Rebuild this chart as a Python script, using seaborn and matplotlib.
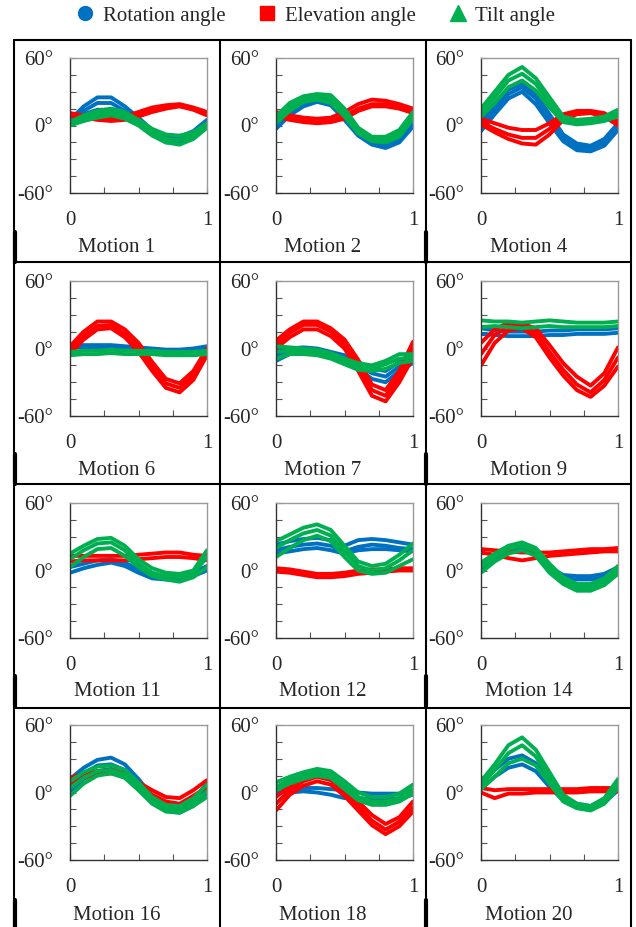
"""
Joint angle traces for 12 motions (rotation / elevation / tilt)
"""

import matplotlib
matplotlib.use('Agg')
import matplotlib.pyplot as plt
from matplotlib.lines import Line2D
import seaborn as sns
import pandas as pd

# normalised motion phase where the angles were read
PHASE = [0.0, 0.1, 0.2, 0.3, 0.4, 0.5, 0.6, 0.7, 0.8, 0.9, 1.0]

MOTIONS = [1, 2, 4, 6, 7, 9, 11, 12, 14, 16, 18, 20]

# each list holds a few repetitions of the same motion (degrees)
m1_rot = [[5, 17, 25, 25, 17, 7, -4, -10, -10, -5, 5],
          [3, 13, 20, 20, 13, 4, -6, -12, -12, -7, 3],
          [1, 10, 14, 14, 8, 1, -8, -15, -15, -10, 1]]
m1_elv = [[11, 9, 8, 7, 8, 12, 16, 18, 19, 16, 12],
          [9, 7, 5, 4, 5, 8, 12, 15, 17, 14, 9],
          [10, 8, 6, 5, 6, 10, 14, 17, 18, 15, 10]]
m1_tilt = [[3, 9, 13, 15, 12, 5, -3, -8, -9, -6, 2],
           [1, 6, 10, 12, 9, 2, -6, -12, -13, -9, 0],
           [0, 4, 7, 9, 6, 0, -9, -15, -17, -12, -2]]

m2_rot = [[2, 15, 22, 25, 24, 12, -4, -13, -15, -10, 5],
          [0, 12, 20, 23, 21, 8, -7, -15, -17, -12, 2],
          [-3, 9, 17, 21, 18, 5, -9, -17, -20, -15, -1]]
m2_elv = [[12, 9, 7, 6, 7, 12, 19, 23, 22, 19, 15],
          [10, 6, 4, 3, 4, 8, 15, 19, 19, 16, 13],
          [8, 5, 3, 2, 3, 6, 13, 17, 17, 15, 11]]
m2_tilt = [[8, 20, 26, 28, 27, 15, -2, -10, -10, -4, 12],
           [5, 17, 24, 26, 24, 11, -5, -12, -13, -7, 9],
           [2, 13, 21, 23, 20, 8, -7, -14, -15, -10, 6]]

m4_rot = [[4, 18, 32, 37, 28, 10, -8, -16, -18, -12, 2],
          [0, 14, 28, 34, 24, 6, -11, -19, -21, -15, -1],
          [-5, 10, 24, 30, 19, 2, -14, -22, -23, -18, -4]]
m4_elv = [[6, 2, -2, -4, -4, 2, 10, 13, 13, 11, 4],
          [3, -3, -8, -11, -11, -3, 8, 12, 12, 9, 2],
          [1, -6, -12, -16, -17, -8, 5, 10, 11, 8, 0]]
m4_tilt = [[15, 30, 45, 52, 42, 25, 8, 5, 6, 8, 14],
           [11, 25, 40, 46, 37, 20, 5, 3, 4, 6, 11],
           [8, 20, 34, 40, 31, 16, 3, 1, 2, 4, 8]]

m6_rot = [[3, 3, 3, 3, 2, 1, 0, -1, -1, 0, 2],
          [1, 1, 1, 1, 0, -1, -2, -3, -3, -2, 0]]
m6_elv = [[2, 15, 24, 24, 17, 5, -12, -27, -31, -20, 0],
          [-2, 11, 20, 21, 13, 1, -16, -31, -35, -24, -3],
          [-5, 8, 17, 18, 10, -3, -20, -35, -39, -28, -6]]
m6_tilt = [[-3, -2, -2, -1, -2, -2, -2, -3, -3, -3, -2],
           [-6, -5, -5, -4, -5, -5, -5, -6, -6, -6, -5]]

m7_rot = [[-2, 0, 1, 0, -3, -6, -12, -18, -20, -12, -7],
          [-6, -2, -1, -2, -5, -9, -15, -22, -25, -16, -10],
          [-11, -5, -3, -4, -7, -12, -18, -27, -30, -20, -13]]
m7_elv = [[7, 17, 24, 24, 18, 8, -10, -32, -37, -20, 6],
          [3, 14, 21, 21, 15, 4, -15, -37, -42, -25, 0],
          [0, 10, 17, 17, 11, 0, -20, -42, -47, -30, -8]]
m7_tilt = [[2, 1, 0, -1, -4, -9, -13, -15, -11, -5, -5],
           [-3, -2, -3, -4, -7, -12, -16, -18, -14, -9, -8],
           [-9, -5, -5, -6, -9, -14, -19, -20, -18, -13, -11]]

m9_rot = [[18, 16, 15, 15, 15, 16, 16, 17, 17, 17, 18],
          [13, 12, 11, 11, 11, 12, 12, 13, 13, 13, 14]]
m9_elv = [[5, 17, 23, 22, 18, 3, -13, -25, -33, -22, 1],
          [-5, 12, 20, 20, 14, -3, -19, -32, -39, -28, -8],
          [-15, 5, 16, 18, 10, -8, -24, -37, -43, -33, -16]]
m9_tilt = [[25, 24, 24, 23, 24, 25, 24, 23, 23, 23, 24],
           [19, 20, 19, 18, 19, 20, 19, 19, 19, 19, 20]]

m11_rot = [[3, 6, 9, 10, 7, 1, -4, -5, -5, -2, 4],
           [-2, 2, 5, 7, 4, -2, -7, -8, -8, -5, 0]]
m11_elv = [[13, 13, 13, 13, 13, 14, 15, 16, 16, 14, 13],
           [8, 9, 9, 9, 9, 10, 11, 12, 12, 11, 9]]
m11_tilt = [[15, 22, 28, 29, 22, 10, 2, -2, -3, 0, 18],
            [10, 18, 24, 25, 18, 6, -2, -5, -6, -3, 12],
            [3, 12, 19, 20, 13, 3, -5, -8, -10, -6, 3]]

m12_rot = [[23, 26, 28, 29, 27, 22, 27, 28, 27, 25, 23],
           [18, 21, 23, 24, 22, 17, 21, 23, 22, 20, 19],
           [15, 17, 19, 20, 18, 15, 18, 19, 19, 18, 17]]
m12_elv = [[2, 1, -1, -3, -3, -2, 0, 1, 1, 2, 2],
           [-1, -2, -4, -6, -6, -5, -3, -2, -1, 0, 0]]
m12_tilt = [[26, 32, 38, 41, 36, 22, 8, 4, 6, 14, 24],
            [20, 27, 33, 36, 31, 17, 4, 0, 2, 9, 18],
            [12, 20, 27, 31, 26, 12, 0, -3, -2, 4, 10]]

m14_rot = [[5, 13, 20, 22, 16, 3, -4, -5, -5, -3, 3],
           [1, 10, 17, 19, 13, 0, -7, -8, -8, -6, 0]]
m14_elv = [[19, 18, 17, 16, 16, 16, 17, 18, 19, 19, 20],
           [16, 14, 11, 9, 11, 13, 14, 15, 16, 17, 17]]
m14_tilt = [[7, 15, 22, 25, 20, 6, -6, -12, -12, -7, 4],
            [3, 12, 19, 22, 17, 2, -9, -15, -15, -10, 0],
            [-2, 8, 15, 18, 13, -2, -12, -18, -18, -13, -3]]

m16_rot = [[12, 22, 29, 31, 25, 12, -3, -12, -13, -6, 8],
           [6, 17, 24, 25, 20, 7, -6, -14, -16, -9, 3],
           [1, 12, 19, 21, 16, 4, -8, -16, -18, -12, 0]]
m16_elv = [[13, 17, 19, 20, 17, 9, 2, -4, -5, 2, 11],
           [8, 13, 16, 17, 14, 6, -2, -8, -10, -3, 5]]
m16_tilt = [[10, 18, 23, 24, 20, 9, -4, -11, -12, -5, 7],
            [4, 13, 19, 20, 16, 5, -8, -14, -15, -9, 1],
            [-3, 8, 15, 17, 13, 2, -10, -17, -18, -12, -4]]

m18_rot = [[3, 4, 4, 4, 3, 2, 0, -1, -1, -1, 2],
           [0, 0, 1, 0, -2, -5, -5, -6, -6, -5, -2]]
m18_elv = [[-4, 6, 13, 17, 14, 5, -8, -20, -28, -22, -8],
           [-10, 2, 10, 14, 11, 1, -12, -25, -33, -26, -13],
           [-16, -2, 6, 10, 7, -3, -16, -29, -37, -30, -17]]
m18_tilt = [[9, 14, 18, 21, 19, 10, 0, -4, -4, -1, 7],
            [5, 11, 15, 18, 16, 6, -4, -8, -8, -5, 3],
            [2, 8, 12, 15, 13, 3, -7, -11, -11, -8, -1]]

m20_rot = [[8, 20, 30, 33, 26, 10, -3, -10, -12, -6, 6],
           [3, 14, 22, 25, 19, 5, -7, -13, -15, -9, 2]]
m20_elv = [[4, 2, 3, 3, 3, 3, 3, 3, 4, 4, 4],
           [0, -5, -1, -1, 0, 0, 0, 0, 1, 1, 1]]
m20_tilt = [[10, 25, 42, 49, 38, 18, -2, -10, -12, -5, 12],
            [6, 20, 35, 42, 32, 13, -5, -12, -14, -8, 8],
            [3, 14, 26, 30, 24, 8, -8, -14, -16, -10, 4]]

ANGLE_NAMES = ['Rotation angle', 'Elevation angle', 'Tilt angle']
COLORS = ['#0070C0', '#FF0000', '#00B050']

TRACES = {
    1: (m1_rot, m1_elv, m1_tilt), 2: (m2_rot, m2_elv, m2_tilt),
    4: (m4_rot, m4_elv, m4_tilt), 6: (m6_rot, m6_elv, m6_tilt),
    7: (m7_rot, m7_elv, m7_tilt), 9: (m9_rot, m9_elv, m9_tilt),
    11: (m11_rot, m11_elv, m11_tilt), 12: (m12_rot, m12_elv, m12_tilt),
    14: (m14_rot, m14_elv, m14_tilt), 16: (m16_rot, m16_elv, m16_tilt),
    18: (m18_rot, m18_elv, m18_tilt), 20: (m20_rot, m20_elv, m20_tilt),
}


def motion_frame(motion):
    rows = []
    for name, reps in zip(ANGLE_NAMES, TRACES[motion]):
        for r, values in enumerate(reps):
            for p, v in zip(PHASE, values):
                rows.append({'phase': p, 'angle': v, 'kind': name, 'rep': r})
    return pd.DataFrame(rows)


sns.set_style('white')
plt.rcParams['font.family'] = ['Liberation Serif', 'DejaVu Serif']
plt.rcParams['font.size'] = 15

W, H = 636, 927
fig = plt.figure(figsize=(W / 100, H / 100), dpi=100)


def px_rect(left, top, w, h):
    return [left / W, 1 - (top + h) / H, w / W, h / H]


col_left = [70, 276, 481]
row_top = [58, 281, 503, 725]
cell_x = [14, 220, 426, 631]
cell_y = [40, 262, 484, 708]

for idx, motion in enumerate(MOTIONS):
    r, c = divmod(idx, 3)
    ax = fig.add_axes(px_rect(col_left[c], row_top[r], 137, 135))
    df = motion_frame(motion)
    sns.lineplot(data=df, x='phase', y='angle', hue='kind', units='rep',
                 estimator=None, hue_order=ANGLE_NAMES, palette=COLORS,
                 linewidth=2.8, legend=False, ax=ax,
                 solid_joinstyle='round', solid_capstyle='round')
    ax.set_xlim(0, 1)
    ax.set_ylim(-60, 60)
    ax.set_xticks([0, 0.25, 0.5, 0.75, 1])
    ax.set_xticklabels(['0', '', '', '', '1'])
    ax.set_yticks([-60, -45, -30, -15, 0, 15, 30, 45, 60])
    ax.set_yticklabels(['-60°', '', '', '', '0°', '', '', '', '60°'])
    ax.tick_params(axis='both', direction='in', length=4, width=0.8,
                   color='#555555', labelsize=15)
    ax.tick_params(axis='x', pad=13, bottom=True)
    ax.tick_params(axis='y', pad=12, left=True)
    ax.set_xlabel('')
    ax.set_ylabel('')
    for side in ['left', 'bottom']:
        ax.spines[side].set_color('#333333')
        ax.spines[side].set_linewidth(1.0)
    for side in ['top', 'right']:
        ax.spines[side].set_color('#9a9a9a')
        ax.spines[side].set_linewidth(1.0)

    # label under each panel, centred in its table cell
    cx = (cell_x[c] + cell_x[c + 1]) / 2
    cy = cell_y[r] + 208
    fig.text(cx / W, 1 - cy / H, f'Motion {motion}', ha='center', va='center',
             fontsize=15)

# table grid around the panels
for x in cell_x:
    fig.add_artist(Line2D([x / W, x / W], [0, 1 - cell_y[0] / H],
                          transform=fig.transFigure, color='black', lw=1.5))
for y in cell_y:
    fig.add_artist(Line2D([cell_x[0] / W, cell_x[-1] / W], [1 - y / H, 1 - y / H],
                          transform=fig.transFigure, color='black', lw=1.5))
for y in cell_y:
    for x in [cell_x[0] + 1, cell_x[2]]:
        fig.add_artist(Line2D([x / W, x / W], [1 - (y + 222) / H, 1 - (y + 192) / H],
                              transform=fig.transFigure, color='black', lw=3))

handles = [
    Line2D([], [], ls='', marker='o', color=COLORS[0], markersize=10),
    Line2D([], [], ls='', marker='s', color=COLORS[1], markersize=10),
    Line2D([], [], ls='', marker='^', color=COLORS[2], markersize=11),
]
fig.legend(handles, ANGLE_NAMES, loc='center', bbox_to_anchor=(0.497, 1 - 16 / H),
           ncol=3, frameon=False, fontsize=15, handlelength=0.8,
           handletextpad=0.45, columnspacing=1.6, borderaxespad=0)

fig.savefig('out.png', dpi=100)
